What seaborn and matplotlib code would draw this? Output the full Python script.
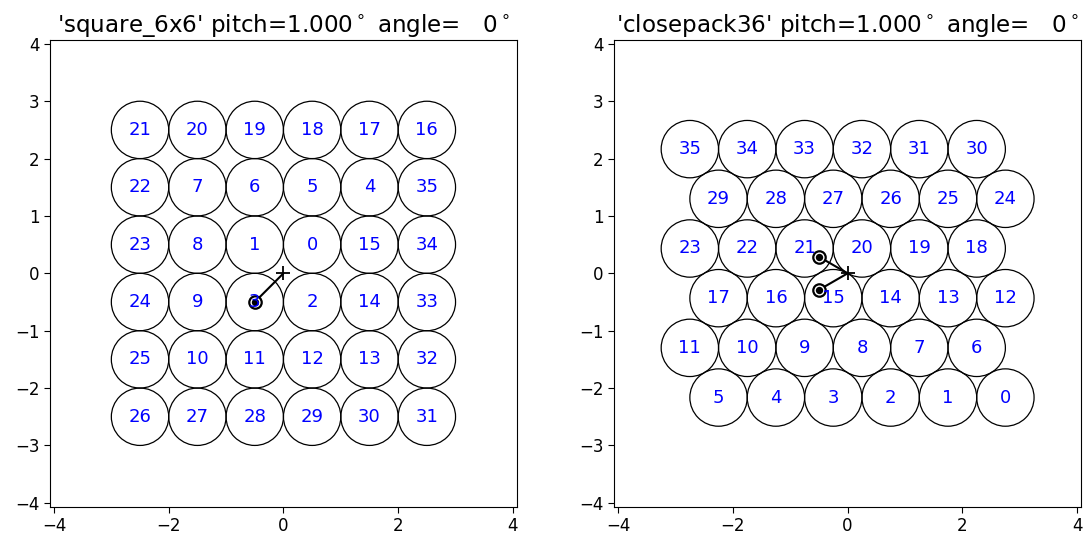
import numpy as np
import pandas as pd
import matplotlib
matplotlib.use("Agg")
import matplotlib.pyplot as plt
from matplotlib.patches import Circle
import seaborn as sns

sns.set_style("ticks", {"axes.edgecolor": "black", "xtick.color": "black", "ytick.color": "black",
                        "axes.linewidth": 0.8, "text.color": "black", "axes.labelcolor": "black"})
plt.rcParams['font.family'] = ['DejaVu Sans']

# ---- data ----
titles = ["'square_6x6' pitch=1.000$^\\circ$ angle=   0$^\\circ$",
          "'closepack36' pitch=1.000$^\\circ$ angle=   0$^\\circ$"]

sq_x = [-2.5, -1.5, -0.5, 0.5, 1.5, 2.5]
sq_y = [2.5, 1.5, 0.5, -0.5, -1.5, -2.5]
sq_labels = [[21, 20, 19, 18, 17, 16],
             [22, 7, 6, 5, 4, 35],
             [23, 8, 1, 0, 15, 34],
             [24, 9, 3, 2, 14, 33],
             [25, 10, 11, 12, 13, 32],
             [26, 27, 28, 29, 30, 31]]
sq_marks_x = [-0.5]
sq_marks_y = [-0.5]

h = np.sqrt(3) / 2
cp_rows_y = [2.5 * h, 1.5 * h, 0.5 * h, -0.5 * h, -1.5 * h, -2.5 * h]
cp_rows_x0 = [-2.75, -2.25, -2.75, -2.25, -2.75, -2.25]
cp_labels = [[35, 34, 33, 32, 31, 30],
             [29, 28, 27, 26, 25, 24],
             [23, 22, 21, 20, 19, 18],
             [17, 16, 15, 14, 13, 12],
             [11, 10, 9, 8, 7, 6],
             [5, 4, 3, 2, 1, 0]]
cp_marks_x = [-0.5, -0.5]
cp_marks_y = [0.2887, -0.2887]

pitch = 1.0


def build(kind):
    rows = []
    if kind == "sq":
        for r, y in enumerate(sq_y):
            for c, x in enumerate(sq_x):
                rows.append((x, y, sq_labels[r][c]))
    else:
        for r, y in enumerate(cp_rows_y):
            for c in range(6):
                rows.append((cp_rows_x0[r] + c * pitch, y, cp_labels[r][c]))
    return pd.DataFrame(rows, columns=["x", "y", "lab"])


fig = plt.figure(figsize=(10.86, 5.37), dpi=100)
axes = [fig.add_axes([0.046, 0.052, 0.430, 0.878]),
        fig.add_axes([0.5655, 0.052, 0.430, 0.878])]

for ax, kind, title, mx, my in zip(axes, ["sq", "cp"], titles,
                                   [sq_marks_x, cp_marks_x], [sq_marks_y, cp_marks_y]):
    df = build(kind)
    for _, row in df.iterrows():
        ax.add_patch(Circle((row.x, row.y), pitch / 2, facecolor="none",
                            edgecolor="black", linewidth=0.9, zorder=1))
        ax.text(row.x, row.y, str(int(row.lab)), color="blue", fontsize=13,
                ha="center", va="center", zorder=5)
    for xx, yy in zip(mx, my):
        seg = pd.DataFrame({"x": [0, xx], "y": [0, yy]})
        sns.lineplot(data=seg, x="x", y="y", ax=ax, color="black", linewidth=1.5,
                     sort=False, estimator=None, zorder=3)
    mk = pd.DataFrame({"x": mx, "y": my})
    sns.scatterplot(data=mk, x="x", y="y", ax=ax, s=80, color="white",
                    edgecolor="black", linewidth=1.6, zorder=4)
    sns.scatterplot(data=mk, x="x", y="y", ax=ax, s=28, color="black",
                    edgecolor="black", linewidth=0, zorder=4)
    ax.plot([0], [0], marker="+", color="black", markersize=10, mew=1.3, zorder=4)
    ax.set_xlim(-4.07, 4.07)
    ax.set_ylim(-4.07, 4.07)
    ax.set_aspect("equal")
    ax.set_xticks([-4, -2, 0, 2, 4])
    ax.set_yticks([-4, -3, -2, -1, 0, 1, 2, 3, 4])
    ax.tick_params(labelsize=12, length=4, width=0.8, direction="out")
    ax.set_xlabel("")
    ax.set_ylabel("")
    ax.set_title(title, fontsize=16.6, color="black")
    for s in ax.spines.values():
        s.set_visible(True)

fig.savefig("out.png", dpi=100)
